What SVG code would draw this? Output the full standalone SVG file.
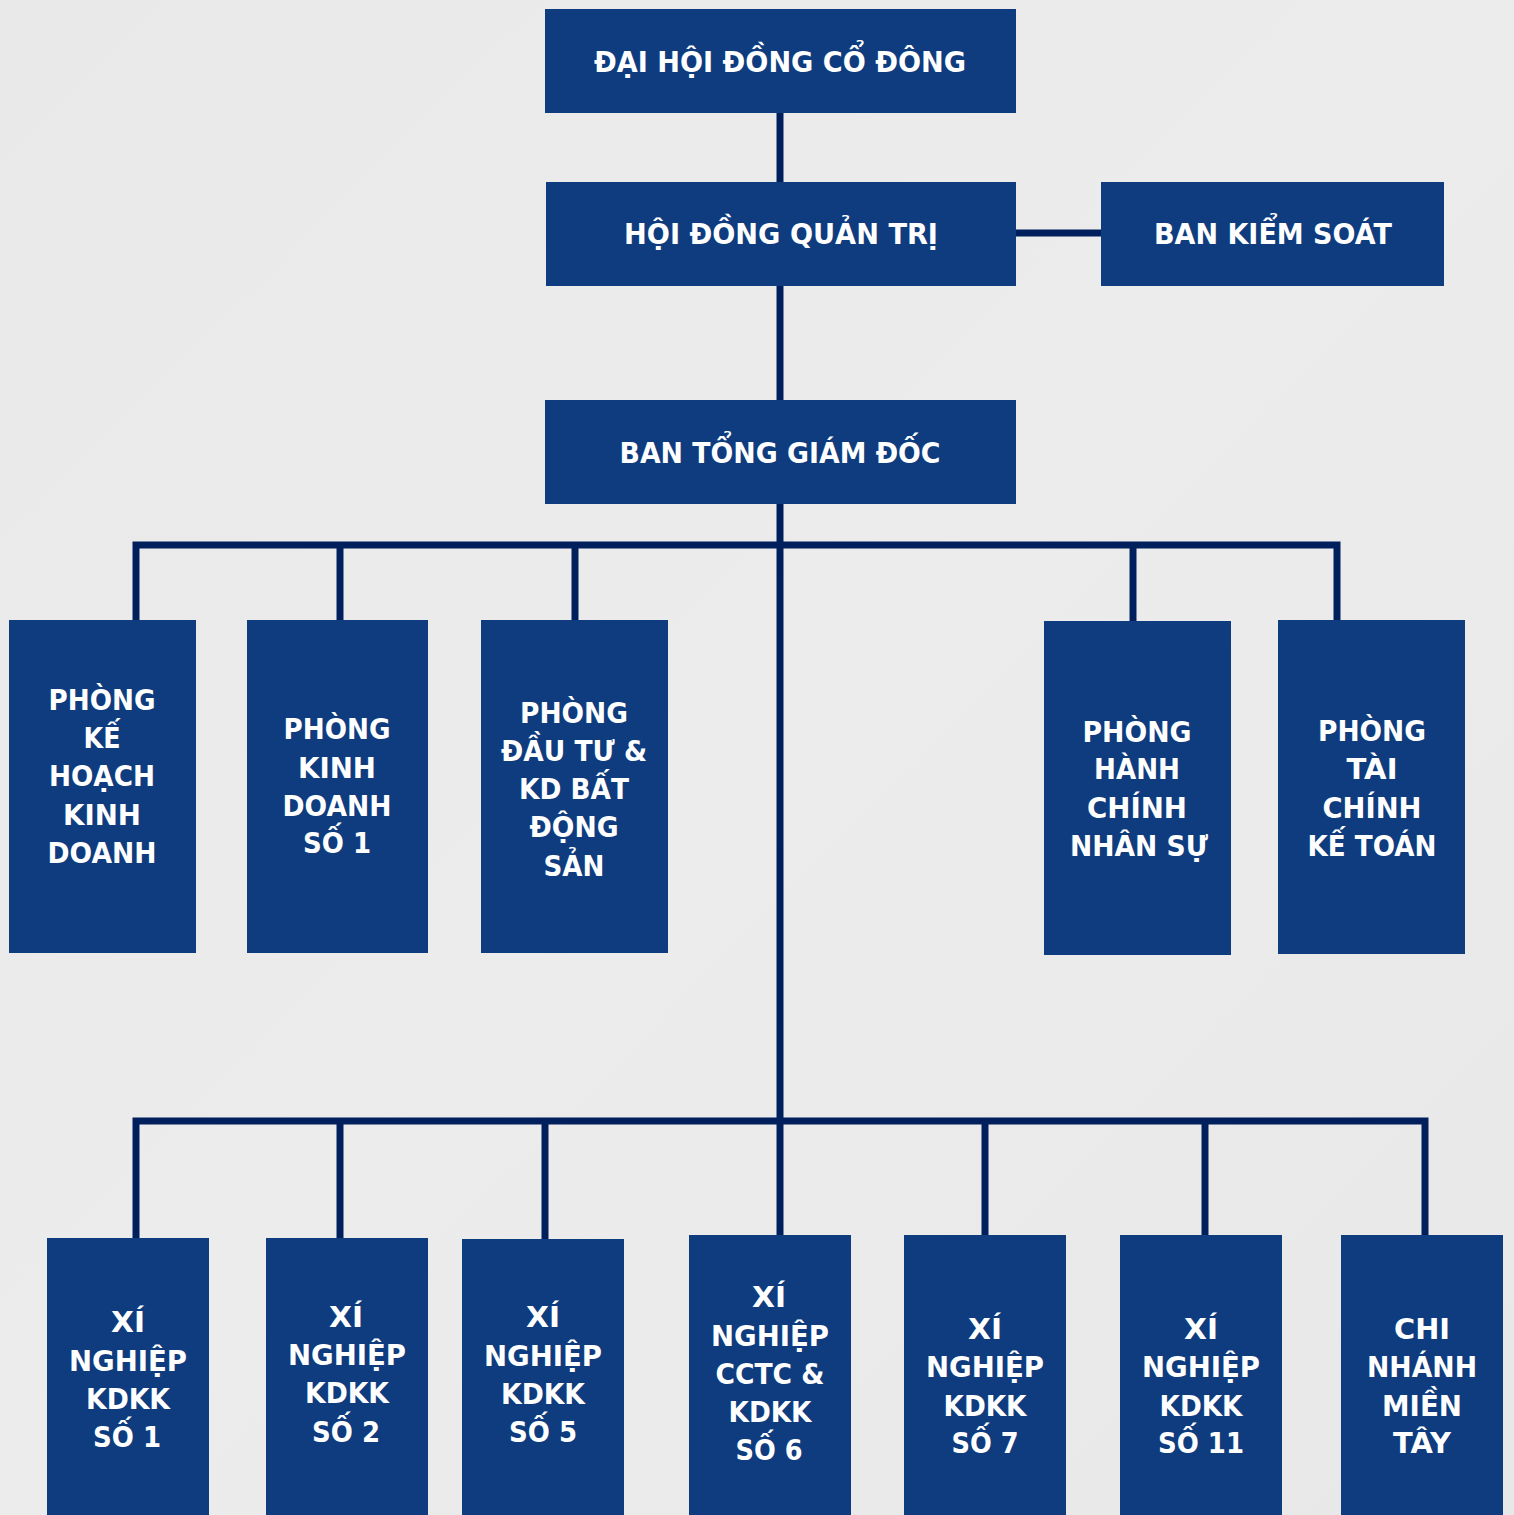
<svg xmlns="http://www.w3.org/2000/svg" width="1514" height="1515" viewBox="0 0 1514 1515">
<style>
.bx{fill:#0e3c7f}
.t{font-family:"DejaVu Sans","Verdana",sans-serif;font-weight:bold;font-size:29px;fill:#ffffff;text-anchor:middle}
.c{fill:none;stroke:#00205d;stroke-width:7;stroke-linejoin:miter;stroke-linecap:butt}
</style>
<defs>
<linearGradient id="bg" x1="0" y1="0" x2="1" y2="1">
<stop offset="0" stop-color="#e9e9e9"/>
<stop offset="0.5" stop-color="#ececec"/>
<stop offset="1" stop-color="#e8e8e8"/>
</linearGradient>
</defs>
<rect x="0" y="0" width="1514" height="1515" fill="url(#bg)"/>
<g id="connectors">
<path class="c" d="M780 113 V182"/>
<path class="c" d="M1016 233 H1101"/>
<path class="c" d="M780 286 V400"/>
<path class="c" d="M780 504 V1121"/>
<path class="c" d="M136 620 V545 H1337 V620"/>
<path class="c" d="M340 545 V620"/>
<path class="c" d="M575 545 V620"/>
<path class="c" d="M1133 545 V621"/>
<path class="c" d="M136 1238 V1121 H1425 V1235"/>
<path class="c" d="M340 1121 V1238"/>
<path class="c" d="M545 1121 V1239"/>
<path class="c" d="M780 1121 V1235"/>
<path class="c" d="M985 1121 V1235"/>
<path class="c" d="M1205 1121 V1235"/>
</g>
<g id="n-dhdcd"><rect class="bx" x="545" y="9" width="471" height="104"/><text class="t" x="780" y="72" textLength="372" lengthAdjust="spacingAndGlyphs">ĐẠI HỘI ĐỒNG CỔ ĐÔNG</text></g>
<g id="n-hdqt"><rect class="bx" x="546" y="182" width="470" height="104"/><text class="t" x="781" y="244" textLength="314" lengthAdjust="spacingAndGlyphs">HỘI ĐỒNG QUẢN TRỊ</text></g>
<g id="n-bks"><rect class="bx" x="1101" y="182" width="343" height="104"/><text class="t" x="1273" y="244" textLength="238" lengthAdjust="spacingAndGlyphs">BAN KIỂM SOÁT</text></g>
<g id="n-btgd"><rect class="bx" x="545" y="400" width="471" height="104"/><text class="t" x="780" y="463" textLength="321" lengthAdjust="spacingAndGlyphs">BAN TỔNG GIÁM ĐỐC</text></g>

<g id="n-khkd"><rect class="bx" x="9" y="620" width="187" height="333"/>
<text class="t" x="102" y="710" textLength="107" lengthAdjust="spacingAndGlyphs">PHÒNG</text>
<text class="t" x="102" y="748" textLength="37" lengthAdjust="spacingAndGlyphs">KẾ</text>
<text class="t" x="102" y="786" textLength="106" lengthAdjust="spacingAndGlyphs">HOẠCH</text>
<text class="t" x="102" y="825" textLength="78" lengthAdjust="spacingAndGlyphs">KINH</text>
<text class="t" x="102" y="863" textLength="109" lengthAdjust="spacingAndGlyphs">DOANH</text></g>

<g id="n-kd1"><rect class="bx" x="247" y="620" width="181" height="333"/>
<text class="t" x="337" y="739" textLength="107" lengthAdjust="spacingAndGlyphs">PHÒNG</text>
<text class="t" x="337" y="778" textLength="78" lengthAdjust="spacingAndGlyphs">KINH</text>
<text class="t" x="337" y="816" textLength="109" lengthAdjust="spacingAndGlyphs">DOANH</text>
<text class="t" x="337" y="853" textLength="68" lengthAdjust="spacingAndGlyphs">SỐ 1</text></g>

<g id="n-dtbds"><rect class="bx" x="481" y="620" width="187" height="333"/>
<text class="t" x="574" y="723" textLength="108" lengthAdjust="spacingAndGlyphs">PHÒNG</text>
<text class="t" x="574" y="761" textLength="146" lengthAdjust="spacingAndGlyphs">ĐẦU TƯ &amp;</text>
<text class="t" x="574" y="799" textLength="110" lengthAdjust="spacingAndGlyphs">KD BẤT</text>
<text class="t" x="574" y="837" textLength="89" lengthAdjust="spacingAndGlyphs">ĐỘNG</text>
<text class="t" x="574" y="876" textLength="61" lengthAdjust="spacingAndGlyphs">SẢN</text></g>

<g id="n-hcns"><rect class="bx" x="1044" y="621" width="187" height="334"/>
<text class="t" x="1137" y="742" textLength="109" lengthAdjust="spacingAndGlyphs">PHÒNG</text>
<text class="t" x="1137" y="779" textLength="86" lengthAdjust="spacingAndGlyphs">HÀNH</text>
<text class="t" x="1137" y="818" textLength="100" lengthAdjust="spacingAndGlyphs">CHÍNH</text>
<text class="t" x="1139" y="856" textLength="138" lengthAdjust="spacingAndGlyphs">NHÂN SỰ</text></g>

<g id="n-tckt"><rect class="bx" x="1278" y="620" width="187" height="334"/>
<text class="t" x="1372" y="741" textLength="108" lengthAdjust="spacingAndGlyphs">PHÒNG</text>
<text class="t" x="1372" y="779" textLength="51" lengthAdjust="spacingAndGlyphs">TÀI</text>
<text class="t" x="1372" y="818" textLength="99" lengthAdjust="spacingAndGlyphs">CHÍNH</text>
<text class="t" x="1372" y="856" textLength="129" lengthAdjust="spacingAndGlyphs">KẾ TOÁN</text></g>

<g id="n-xn1"><rect class="bx" x="47" y="1238" width="162" height="277"/>
<text class="t" x="128" y="1332" textLength="34" lengthAdjust="spacingAndGlyphs">XÍ</text>
<text class="t" x="128" y="1371" textLength="118" lengthAdjust="spacingAndGlyphs">NGHIỆP</text>
<text class="t" x="128" y="1409" textLength="84" lengthAdjust="spacingAndGlyphs">KDKK</text>
<text class="t" x="127" y="1447" textLength="68" lengthAdjust="spacingAndGlyphs">SỐ 1</text></g>

<g id="n-xn2"><rect class="bx" x="266" y="1238" width="162" height="277"/>
<text class="t" x="346" y="1327" textLength="34" lengthAdjust="spacingAndGlyphs">XÍ</text>
<text class="t" x="347" y="1365" textLength="118" lengthAdjust="spacingAndGlyphs">NGHIỆP</text>
<text class="t" x="347" y="1403" textLength="84" lengthAdjust="spacingAndGlyphs">KDKK</text>
<text class="t" x="346" y="1442" textLength="68" lengthAdjust="spacingAndGlyphs">SỐ 2</text></g>

<g id="n-xn5"><rect class="bx" x="462" y="1239" width="162" height="276"/>
<text class="t" x="543" y="1327" textLength="34" lengthAdjust="spacingAndGlyphs">XÍ</text>
<text class="t" x="543" y="1366" textLength="118" lengthAdjust="spacingAndGlyphs">NGHIỆP</text>
<text class="t" x="543" y="1404" textLength="84" lengthAdjust="spacingAndGlyphs">KDKK</text>
<text class="t" x="543" y="1442" textLength="68" lengthAdjust="spacingAndGlyphs">SỐ 5</text></g>

<g id="n-xn6"><rect class="bx" x="689" y="1235" width="162" height="280"/>
<text class="t" x="769" y="1307" textLength="34" lengthAdjust="spacingAndGlyphs">XÍ</text>
<text class="t" x="770" y="1346" textLength="118" lengthAdjust="spacingAndGlyphs">NGHIỆP</text>
<text class="t" x="770" y="1384" textLength="109" lengthAdjust="spacingAndGlyphs">CCTC &amp;</text>
<text class="t" x="770" y="1422" textLength="83" lengthAdjust="spacingAndGlyphs">KDKK</text>
<text class="t" x="769" y="1460" textLength="67" lengthAdjust="spacingAndGlyphs">SỐ 6</text></g>

<g id="n-xn7"><rect class="bx" x="904" y="1235" width="162" height="280"/>
<text class="t" x="985" y="1339" textLength="34" lengthAdjust="spacingAndGlyphs">XÍ</text>
<text class="t" x="985" y="1377" textLength="118" lengthAdjust="spacingAndGlyphs">NGHIỆP</text>
<text class="t" x="985" y="1416" textLength="83" lengthAdjust="spacingAndGlyphs">KDKK</text>
<text class="t" x="985" y="1453" textLength="67" lengthAdjust="spacingAndGlyphs">SỐ 7</text></g>

<g id="n-xn11"><rect class="bx" x="1120" y="1235" width="162" height="280"/>
<text class="t" x="1201" y="1339" textLength="34" lengthAdjust="spacingAndGlyphs">XÍ</text>
<text class="t" x="1201" y="1377" textLength="118" lengthAdjust="spacingAndGlyphs">NGHIỆP</text>
<text class="t" x="1201" y="1416" textLength="83" lengthAdjust="spacingAndGlyphs">KDKK</text>
<text class="t" x="1201" y="1453" textLength="86" lengthAdjust="spacingAndGlyphs">SỐ 11</text></g>

<g id="n-cnmt"><rect class="bx" x="1341" y="1235" width="162" height="280"/>
<text class="t" x="1422" y="1339" textLength="56" lengthAdjust="spacingAndGlyphs">CHI</text>
<text class="t" x="1422" y="1377" textLength="110" lengthAdjust="spacingAndGlyphs">NHÁNH</text>
<text class="t" x="1422" y="1416" textLength="80" lengthAdjust="spacingAndGlyphs">MIỀN</text>
<text class="t" x="1422" y="1453" textLength="58" lengthAdjust="spacingAndGlyphs">TÂY</text></g>
</svg>
